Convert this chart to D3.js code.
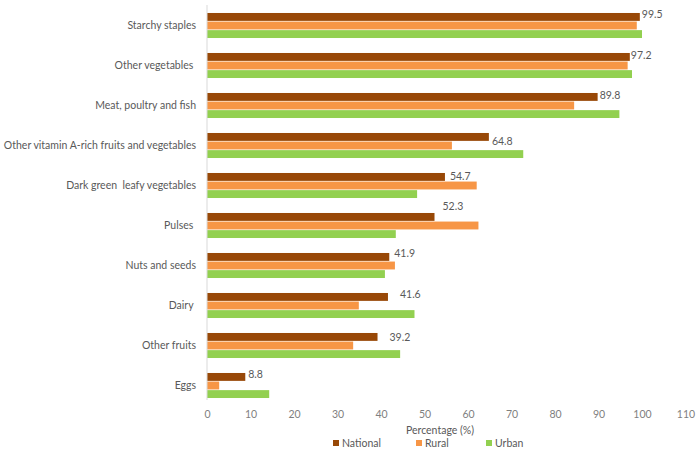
<!DOCTYPE html>
<html><head><meta charset="utf-8">
<script src="https://cdn.jsdelivr.net/npm/d3@7/dist/d3.min.js"></script>
<style>body{margin:0;background:#fff}svg{display:block}text{font-family:Lato,sans-serif}</style>
</head><body>
<script>
const categories = ["Starchy staples","Other vegetables ","Meat, poultry and fish","Other vitamin A-rich fruits and vegetables","Dark green  leafy vegetables","Pulses ","Nuts and seeds","Dairy ","Other fruits","Eggs"];
const seriesNames = ["National","Rural","Urban"];
const national = [99.5,97.2,89.8,64.8,54.7,52.3,41.9,41.6,39.2,8.8];
const rural = [98.8,96.7,84.4,56.3,62.0,62.4,43.2,34.9,33.6,2.8];
const urban = [100.0,97.7,94.8,72.7,48.3,43.4,40.9,47.7,44.4,14.3];
const xTicks = [0,10,20,30,40,50,60,70,80,90,100,110];
const colors = ["#984807","#F79646","#92D050"];
// manual label nudges (px) as in the original
const labelNudge = [[0,-3],[-1,-2],[0,-2],[1,4],[3,-1],[6,-11],[3,-4],[10,-3],[10,0],[1,-3]];

const W=698,H=458;
const svg=d3.select("body").append("svg").attr("width",W).attr("height",H);
const x=d3.scaleLinear().domain([0,110]).range([207,685.5]);
const y=d3.scaleBand().domain(categories).range([5.5,405.5]).paddingInner(0.34).paddingOuter(0.17);
const ySub=d3.scaleBand().domain(seriesNames).range([0,y.bandwidth()]).padding(0.08);
const vals=[national,rural,urban];
const FS=10.5;

categories.forEach((c,i)=>{
  seriesNames.forEach((s,j)=>{
    svg.append("rect").attr("x",x(0)).attr("y",y(c)+ySub(s))
      .attr("width",x(vals[j][i])-x(0)).attr("height",ySub.bandwidth())
      .attr("fill",colors[j]);
  });
  svg.append("text").attr("x",x(national[i])+2+labelNudge[i][0])
    .attr("y",y(c)+ySub("National")+ySub.bandwidth()/2+labelNudge[i][1])
    .attr("dy","0.35em").attr("font-size",FS).attr("fill","#595959").text(national[i]);
});

// category labels
svg.append("g").selectAll("text").data(categories).join("text")
  .attr("x",196).attr("y",d=>y(d)+y.bandwidth()/2).attr("dy","0.35em")
  .attr("text-anchor","end").attr("font-size",FS).attr("fill","#595959")
  .style("white-space","pre").text(d=>d);

// vertical axis line
svg.append("line").attr("x1",x(0)).attr("x2",x(0)).attr("y1",5).attr("y2",400)
  .attr("stroke","#d9d9d9").attr("stroke-width",1);

// x axis (labels only)
const ax=svg.append("g").attr("transform","translate(0,411)")
  .call(d3.axisBottom(x).tickValues(xTicks).tickSize(0).tickPadding(0));
ax.select(".domain").remove();
ax.selectAll("text").attr("font-size",FS).attr("fill","#7f7f7f").attr("font-family","Lato, sans-serif");

svg.append("text").attr("x",440).attr("y",430).attr("dy","0.35em").attr("text-anchor","middle")
  .attr("font-size",FS).attr("fill","#595959").text("Percentage (%)");

// legend
const legX=[333,416,486];
seriesNames.forEach((s,j)=>{
  svg.append("rect").attr("x",legX[j]).attr("y",440).attr("width",6).attr("height",6).attr("fill",colors[j]);
  svg.append("text").attr("x",legX[j]+9).attr("y",443).attr("dy","0.35em")
    .attr("font-size",FS).attr("fill","#595959").text(s);
});
</script>
</body></html>
